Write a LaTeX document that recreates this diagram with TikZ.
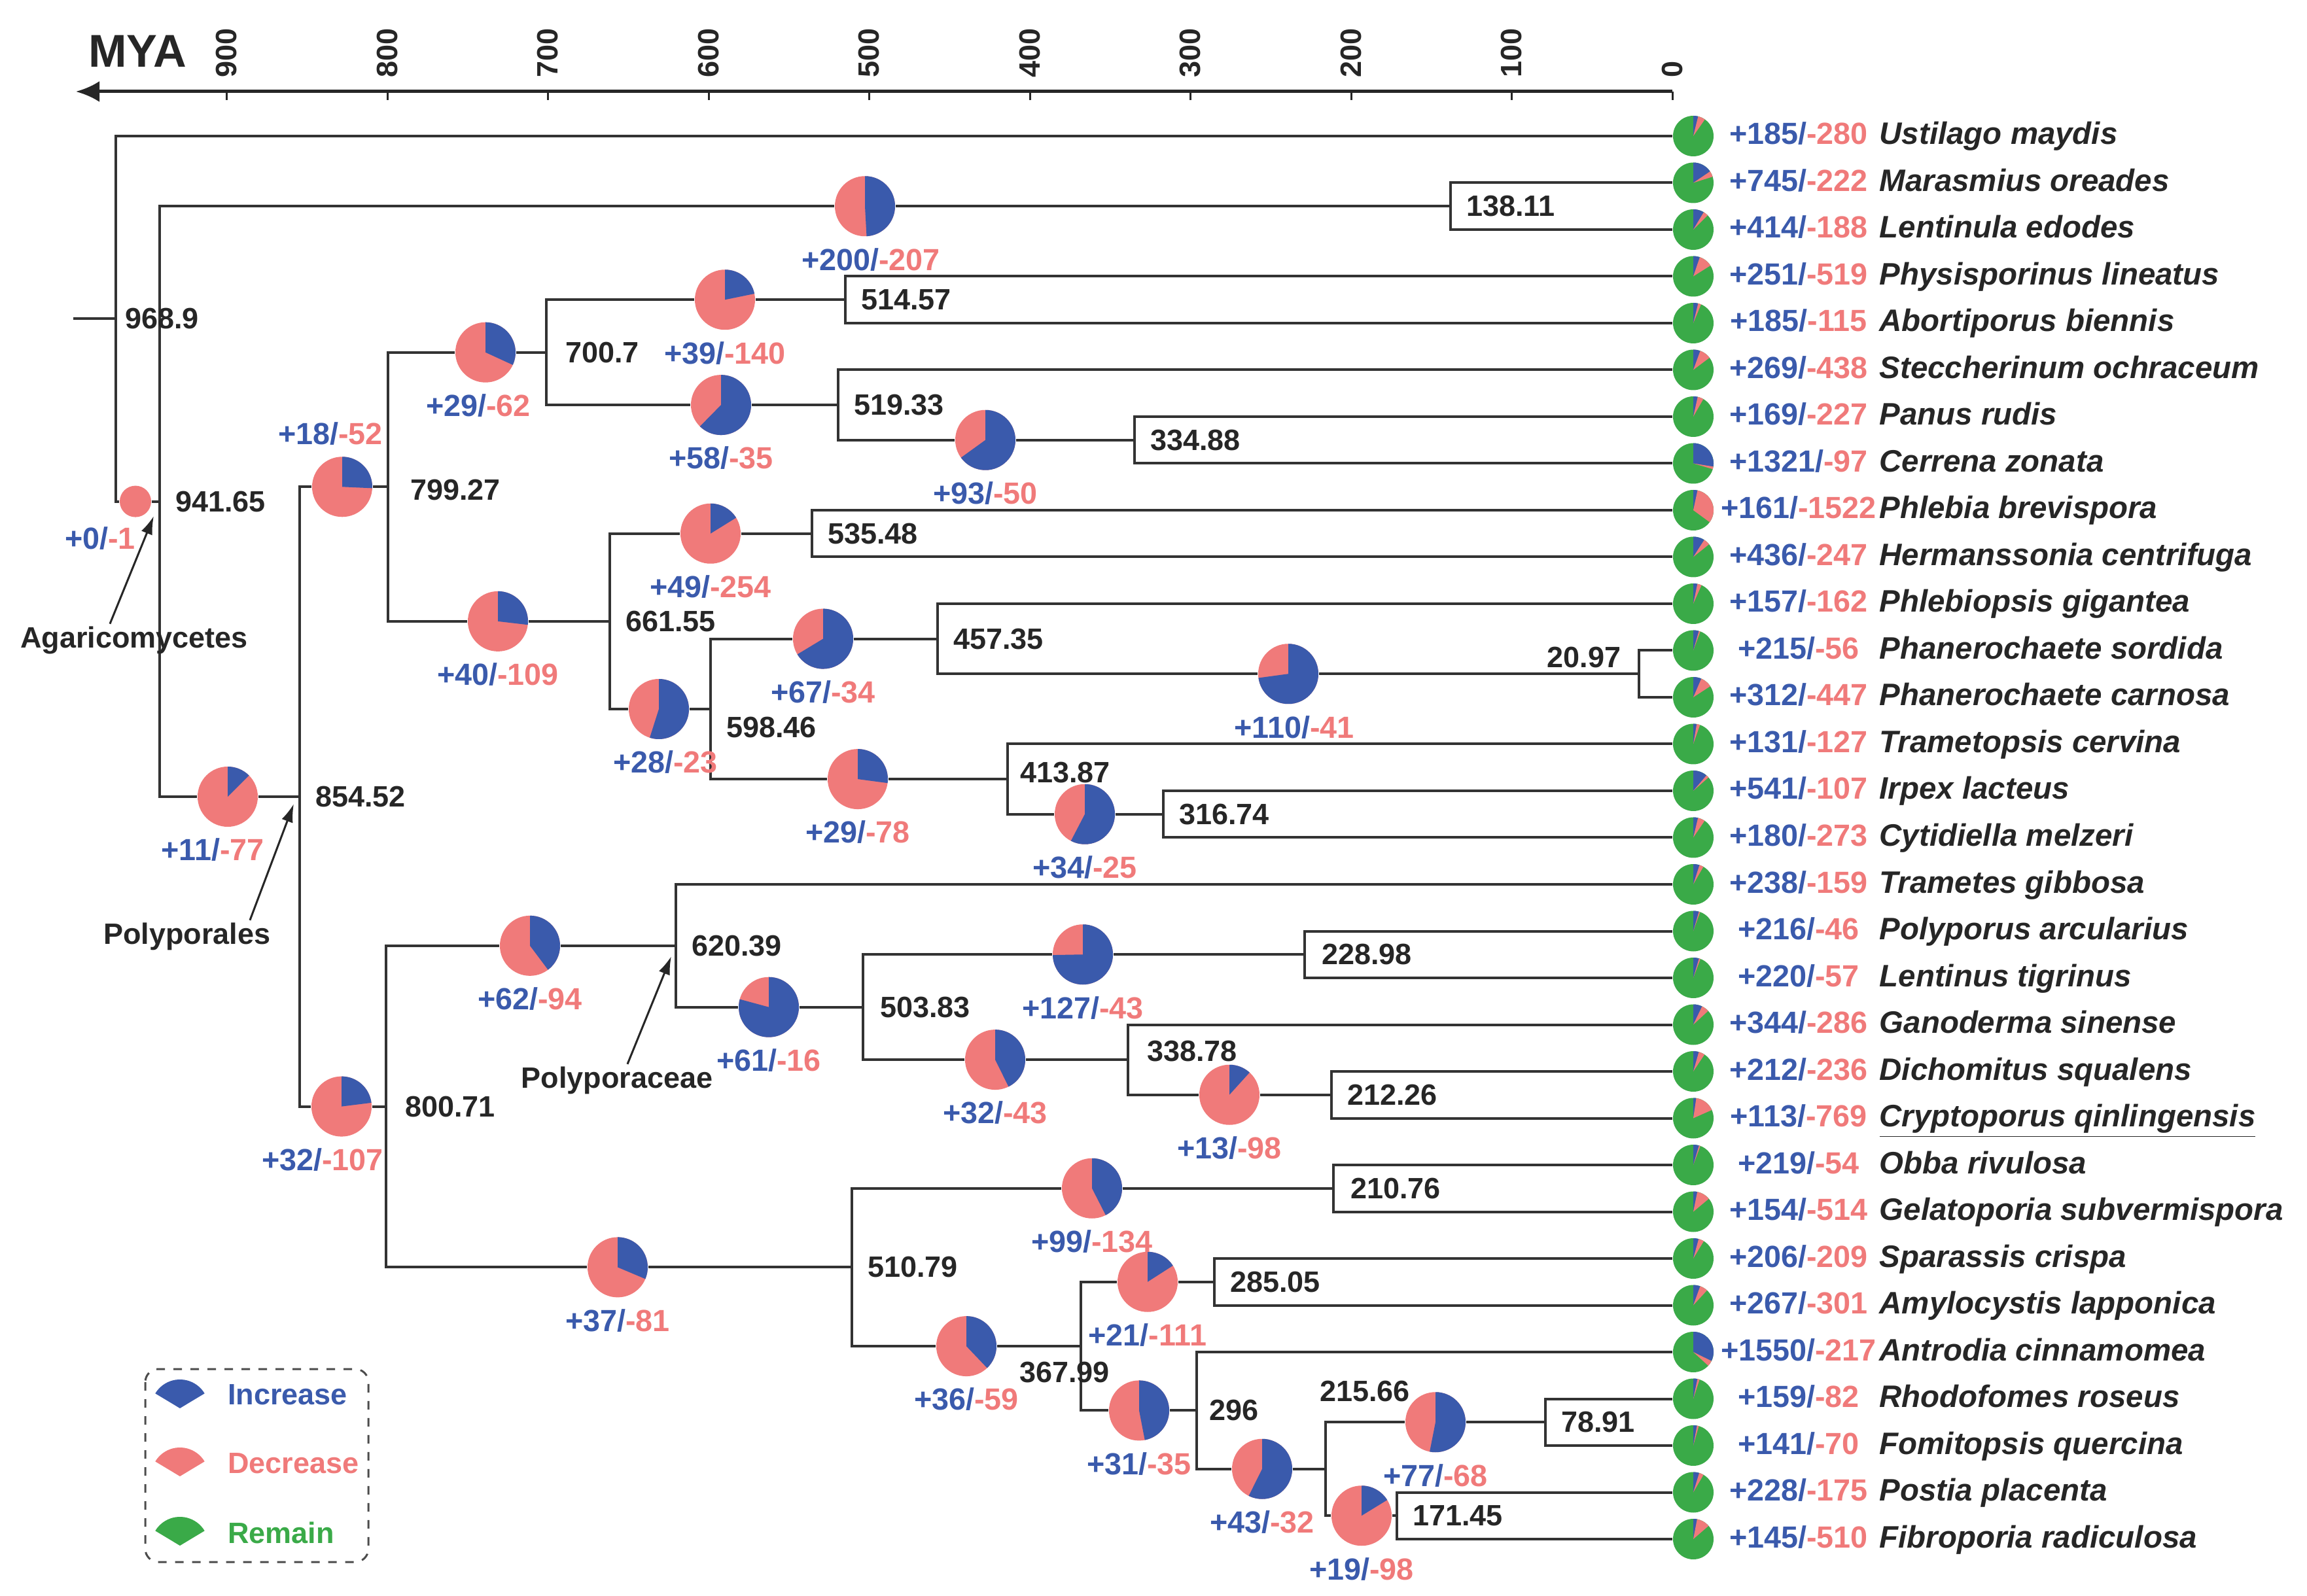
\documentclass[tikz,border=0pt]{standalone}
\usepackage{fontspec}
\setmainfont{Liberation Sans}
\usetikzlibrary{positioning,arrows.meta}

\definecolor{incblue}{RGB}{58,90,172}
\definecolor{decpink}{RGB}{240,122,122}
\definecolor{remgreen}{RGB}{58,170,72}

\newcommand{\gainloss}[2]{\textcolor{incblue}{+#1/}\textcolor{decpink}{-#2}}

% ancestral pie: blue share = gained/(gained+lost)
\newcommand{\nodepie}[4]{%
  \node[pienode] (#1) at (#2) {};
  \fill[incblue] (#1.center) -- ++(90:4.6mm) arc[start angle=90, delta angle={-360*(#3/(#3+#4))}, radius=4.6mm] -- cycle;
}

% extant species: pie, counts and name in one row
\newcommand{\leaf}[5]{%
  \node[leafpie] (#1) at (25.88,#2) {};
  \fill[incblue] (#1.center) -- ++(90:3.1mm) arc[start angle=90, delta angle={-0.075*#3}, radius=3.1mm] -- cycle;
  \fill[decpink] (#1.center) -- ++({90-0.075*#3}:3.1mm) arc[start angle={90-0.075*#3}, delta angle={-0.075*#4}, radius=3.1mm] -- cycle;
  \node[genecount, text height=3.6mm, text depth=1mm] (#1c) at (27.49,#2) {\gainloss{#3}{#4}};
  \node[species] (#1n) at (28.72,#2) {#5};
}

\begin{document}
\begin{tikzpicture}[
    branch/.style={line width=0.4mm, draw=black!80},
    timeaxis/.style={line width=0.5mm, draw=black!85, -{Latex[length=3.6mm,width=3.2mm]}},
    tickmark/.style={line width=0.3mm, draw=black!85},
    ticklabel/.style={font=\fontsize{12.8}{14}\selectfont\bfseries, text=black!85, rotate=90, anchor=west, inner sep=0pt},
    agelabel/.style={font=\fontsize{12.8}{14}\selectfont\bfseries, text=black!85, inner sep=1pt},
    genecount/.style={font=\fontsize{13.3}{15}\selectfont\bfseries, inner sep=1pt},
    species/.style={font=\fontsize{13.5}{15}\selectfont\bfseries\itshape, text=black!85, anchor=west, inner sep=0pt, text height=3.6mm, text depth=1mm},
    pienode/.style={circle, inner sep=0pt, minimum size=9.2mm, fill=decpink},
    leafpie/.style={circle, inner sep=0pt, minimum size=6.2mm, fill=remgreen},
    pointer/.style={line width=0.3mm, draw=black!85, -{Latex[length=2.8mm,width=1.8mm]}},
    legendbox/.style={draw=black!70, line width=0.3mm, dash pattern=on 1.3mm off 1.3mm, rounded corners=2mm}
]

\fill[white] (0,0) rectangle (35.26,-24.40);

% Time axis
\node[font=\fontsize{20}{22}\selectfont\bfseries, text=black!85] (mya) at (2.10,-0.78) {MYA};
\draw[timeaxis] (25.56,-1.40) -- (1.16,-1.40);
\draw[tickmark] (25.56,-1.40) -- ++(0,-0.13);
\draw[tickmark] (23.10,-1.40) -- ++(0,-0.13);
\draw[tickmark] (20.65,-1.40) -- ++(0,-0.13);
\draw[tickmark] (18.19,-1.40) -- ++(0,-0.13);
\draw[tickmark] (15.74,-1.40) -- ++(0,-0.13);
\draw[tickmark] (13.28,-1.40) -- ++(0,-0.13);
\draw[tickmark] (10.83,-1.40) -- ++(0,-0.13);
\draw[tickmark] (8.37,-1.40) -- ++(0,-0.13);
\draw[tickmark] (5.92,-1.40) -- ++(0,-0.13);
\draw[tickmark] (3.46,-1.40) -- ++(0,-0.13);
\node[ticklabel] (t0) at (25.56,-1.19) {0};
\node[ticklabel] (t100) at (23.10,-1.19) {100};
\node[ticklabel] (t200) at (20.65,-1.19) {200};
\node[ticklabel] (t300) at (18.19,-1.19) {300};
\node[ticklabel] (t400) at (15.74,-1.19) {400};
\node[ticklabel] (t500) at (13.28,-1.19) {500};
\node[ticklabel] (t600) at (10.83,-1.19) {600};
\node[ticklabel] (t700) at (8.37,-1.19) {700};
\node[ticklabel] (t800) at (5.92,-1.19) {800};
\node[ticklabel] (t900) at (3.46,-1.19) {900};

% Divergence points
\coordinate (stub) at (1.12,-4.873);
\coordinate (n968) at (1.77,-4.873);
\coordinate (n941) at (2.44,-7.666);
\coordinate (n138) at (22.17,-3.1525);
\coordinate (n854) at (4.58,-12.18);
\coordinate (n799) at (5.93,-7.443);
\coordinate (n700) at (8.35,-5.387);
\coordinate (n514) at (12.92,-4.5825);
\coordinate (n519) at (12.81,-6.191);
\coordinate (n334) at (17.34,-6.7275);
\coordinate (n661) at (9.32,-9.499);
\coordinate (n535) at (12.41,-8.1575);
\coordinate (n598) at (10.86,-10.84);
\coordinate (n457) at (14.33,-9.766);
\coordinate (n020) at (25.045,-10.3025);
\coordinate (n413) at (15.40,-11.911);
\coordinate (n316) at (17.78,-12.4475);
\coordinate (n800) at (5.90,-16.916);
\coordinate (n620) at (10.33,-14.4585);
\coordinate (n503) at (13.19,-15.397);
\coordinate (n228) at (19.94,-14.5925);
\coordinate (n338) at (17.24,-16.201);
\coordinate (n212) at (20.35,-16.7375);
\coordinate (n510) at (13.02,-19.374);
\coordinate (n210) at (20.38,-18.1675);
\coordinate (n367) at (16.52,-20.581);
\coordinate (n285) at (18.56,-19.5975);
\coordinate (n296) at (18.29,-21.564);
\coordinate (n215) at (20.26,-22.4575);
\coordinate (n078) at (23.62,-21.7425);
\coordinate (n171) at (21.35,-23.1725);

% Gain/loss pies on the branches
\node[pienode, minimum size=4.8mm] (pAg) at (2.07,-7.666) {};
\nodepie{p138}{13.22,-3.1525}{200}{207}
\nodepie{p854}{3.48,-12.18}{11}{77}
\nodepie{p799}{5.23,-7.443}{18}{52}
\nodepie{p700}{7.42,-5.387}{29}{62}
\nodepie{p514}{11.08,-4.5825}{39}{140}
\nodepie{p519}{11.02,-6.191}{58}{35}
\nodepie{p334}{15.06,-6.7275}{93}{50}
\nodepie{p661}{7.61,-9.499}{40}{109}
\nodepie{p535}{10.86,-8.1575}{49}{254}
\nodepie{p598}{10.07,-10.84}{28}{23}
\nodepie{p457}{12.58,-9.766}{67}{34}
\nodepie{p020}{19.69,-10.3025}{110}{41}
\nodepie{p413}{13.11,-11.911}{29}{78}
\nodepie{p316}{16.58,-12.4475}{34}{25}
\nodepie{p800}{5.22,-16.916}{32}{107}
\nodepie{p620}{8.10,-14.4585}{62}{94}
\nodepie{p503}{11.75,-15.397}{61}{16}
\nodepie{p228}{16.55,-14.5925}{127}{43}
\nodepie{p338}{15.21,-16.201}{32}{43}
\nodepie{p212}{18.79,-16.7375}{13}{98}
\nodepie{p510}{9.44,-19.374}{37}{81}
\nodepie{p210}{16.69,-18.1675}{99}{134}
\nodepie{p367}{14.77,-20.581}{36}{59}
\nodepie{p285}{17.54,-19.5975}{21}{111}
\nodepie{p296}{17.41,-21.564}{31}{35}
\nodepie{p215}{19.29,-22.4575}{43}{32}
\nodepie{p078}{21.94,-21.7425}{77}{68}
\nodepie{p171}{20.81,-23.1725}{19}{98}

% Species
\leaf{l1}{-2.080}{185}{280}{Ustilago maydis}
\leaf{l2}{-2.795}{745}{222}{Marasmius oreades}
\leaf{l3}{-3.510}{414}{188}{Lentinula edodes}
\leaf{l4}{-4.225}{251}{519}{Physisporinus lineatus}
\leaf{l5}{-4.940}{185}{115}{Abortiporus biennis}
\leaf{l6}{-5.655}{269}{438}{Steccherinum ochraceum}
\leaf{l7}{-6.370}{169}{227}{Panus rudis}
\leaf{l8}{-7.085}{1321}{97}{Cerrena zonata}
\leaf{l9}{-7.800}{161}{1522}{Phlebia brevispora}
\leaf{l10}{-8.515}{436}{247}{Hermanssonia centrifuga}
\leaf{l11}{-9.230}{157}{162}{Phlebiopsis gigantea}
\leaf{l12}{-9.945}{215}{56}{Phanerochaete sordida}
\leaf{l13}{-10.660}{312}{447}{Phanerochaete carnosa}
\leaf{l14}{-11.375}{131}{127}{Trametopsis cervina}
\leaf{l15}{-12.090}{541}{107}{Irpex lacteus}
\leaf{l16}{-12.805}{180}{273}{Cytidiella melzeri}
\leaf{l17}{-13.520}{238}{159}{Trametes gibbosa}
\leaf{l18}{-14.235}{216}{46}{Polyporus arcularius}
\leaf{l19}{-14.950}{220}{57}{Lentinus tigrinus}
\leaf{l20}{-15.665}{344}{286}{Ganoderma sinense}
\leaf{l21}{-16.380}{212}{236}{Dichomitus squalens}
\leaf{l22}{-17.095}{113}{769}{\underline{Cryptoporus qinlingensis}}
\leaf{l23}{-17.810}{219}{54}{Obba rivulosa}
\leaf{l24}{-18.525}{154}{514}{Gelatoporia subvermispora}
\leaf{l25}{-19.240}{206}{209}{Sparassis crispa}
\leaf{l26}{-19.955}{267}{301}{Amylocystis lapponica}
\leaf{l27}{-20.670}{1550}{217}{Antrodia cinnamomea}
\leaf{l28}{-21.385}{159}{82}{Rhodofomes roseus}
\leaf{l29}{-22.100}{141}{70}{Fomitopsis quercina}
\leaf{l30}{-22.815}{228}{175}{Postia placenta}
\leaf{l31}{-23.530}{145}{510}{Fibroporia radiculosa}

% Branches
\draw[branch] (stub) -- (n968);
\draw[branch] (n968) |- (l1);
\draw[branch] (n968) |- (pAg) -- (n941);
\draw[branch] (n941) |- (p138) -- (n138);
\draw[branch] (n138) |- (l2);
\draw[branch] (n138) |- (l3);
\draw[branch] (n941) |- (p854) -- (n854);
\draw[branch] (n854) |- (p799) -- (n799);
\draw[branch] (n799) |- (p700) -- (n700);
\draw[branch] (n700) |- (p514) -- (n514);
\draw[branch] (n514) |- (l4);
\draw[branch] (n514) |- (l5);
\draw[branch] (n700) |- (p519) -- (n519);
\draw[branch] (n519) |- (l6);
\draw[branch] (n519) |- (p334) -- (n334);
\draw[branch] (n334) |- (l7);
\draw[branch] (n334) |- (l8);
\draw[branch] (n799) |- (p661) -- (n661);
\draw[branch] (n661) |- (p535) -- (n535);
\draw[branch] (n535) |- (l9);
\draw[branch] (n535) |- (l10);
\draw[branch] (n661) |- (p598) -- (n598);
\draw[branch] (n598) |- (p457) -- (n457);
\draw[branch] (n457) |- (l11);
\draw[branch] (n457) |- (p020) -- (n020);
\draw[branch] (n020) |- (l12);
\draw[branch] (n020) |- (l13);
\draw[branch] (n598) |- (p413) -- (n413);
\draw[branch] (n413) |- (l14);
\draw[branch] (n413) |- (p316) -- (n316);
\draw[branch] (n316) |- (l15);
\draw[branch] (n316) |- (l16);
\draw[branch] (n854) |- (p800) -- (n800);
\draw[branch] (n800) |- (p620) -- (n620);
\draw[branch] (n620) |- (l17);
\draw[branch] (n620) |- (p503) -- (n503);
\draw[branch] (n503) |- (p228) -- (n228);
\draw[branch] (n228) |- (l18);
\draw[branch] (n228) |- (l19);
\draw[branch] (n503) |- (p338) -- (n338);
\draw[branch] (n338) |- (l20);
\draw[branch] (n338) |- (p212) -- (n212);
\draw[branch] (n212) |- (l21);
\draw[branch] (n212) |- (l22);
\draw[branch] (n800) |- (p510) -- (n510);
\draw[branch] (n510) |- (p210) -- (n210);
\draw[branch] (n210) |- (l23);
\draw[branch] (n210) |- (l24);
\draw[branch] (n510) |- (p367) -- (n367);
\draw[branch] (n367) |- (p285) -- (n285);
\draw[branch] (n285) |- (l25);
\draw[branch] (n285) |- (l26);
\draw[branch] (n367) |- (p296) -- (n296);
\draw[branch] (n296) |- (l27);
\draw[branch] (n296) |- (p215) -- (n215);
\draw[branch] (n215) |- (p078) -- (n078);
\draw[branch] (n078) |- (l28);
\draw[branch] (n078) |- (l29);
\draw[branch] (n215) |- (p171) -- (n171);
\draw[branch] (n171) |- (l30);
\draw[branch] (n171) |- (l31);

% Divergence times
\node[agelabel, right=1mm of n968] (a968) {968.9};
\node[agelabel, right=2mm of n941] (a941) {941.65};
\node[agelabel, right=2mm of n138] (a138) {138.11};
\node[agelabel, right=2mm of n854] (a854) {854.52};
\node[agelabel, right=3mm of n799, yshift=-0.5mm] (a799) {799.27};
\node[agelabel, right=2.5mm of n700] (a700) {700.7};
\node[agelabel, right=2mm of n514] (a514) {514.57};
\node[agelabel, right=2mm of n519] (a519) {519.33};
\node[agelabel, right=2mm of n334] (a334) {334.88};
\node[agelabel, right=2mm of n661] (a661) {661.55};
\node[agelabel, right=2mm of n535] (a535) {535.48};
\node[agelabel, right=2mm of n598, yshift=-2.8mm] (a598) {598.46};
\node[agelabel, right=2mm of n457] (a457) {457.35};
\node[agelabel, left=2.3mm of n020, yshift=2.5mm] (a020) {20.97};
\node[agelabel, right=1.5mm of n413, yshift=1mm] (a413) {413.87};
\node[agelabel, right=2mm of n316] (a316) {316.74};
\node[agelabel, right=2.5mm of n800] (a800) {800.71};
\node[agelabel, right=2mm of n620] (a620) {620.39};
\node[agelabel, right=2.2mm of n503] (a503) {503.83};
\node[agelabel, right=2.2mm of n228] (a228) {228.98};
\node[agelabel, right=2.5mm of n338, yshift=1.3mm] (a338) {338.78};
\node[agelabel, right=2mm of n212] (a212) {212.26};
\node[agelabel, right=2mm of n510] (a510) {510.79};
\node[agelabel, right=2.2mm of n210] (a210) {210.76};
\node[agelabel, below=2mm of n367, xshift=-2.5mm] (a367) {367.99};
\node[agelabel, right=2mm of n285] (a285) {285.05};
\node[agelabel, right=1.5mm of n296] (a296) {296};
\node[agelabel] (a215) at (20.86,-21.27) {215.66};
\node[agelabel, right=2mm of n078] (a078) {78.91};
\node[agelabel, right=2mm of n171] (a171) {171.45};

% Gene family gains/losses
\node[genecount, below=1mm of pAg, xshift=-5.4mm] (cAg) {\gainloss{0}{1}};
\node[genecount, below=1.3mm of p138, xshift=0.9mm] (c138) {\gainloss{200}{207}};
\node[genecount, below=1.3mm of p854, xshift=-2.3mm] (c854) {\gainloss{11}{77}};
\node[genecount, above=1.3mm of p799, xshift=-1.8mm] (c799) {\gainloss{18}{52}};
\node[genecount, below=1.3mm of p700, xshift=-1.1mm] (c700) {\gainloss{29}{62}};
\node[genecount, below=1.3mm of p514] (c514) {\gainloss{39}{140}};
\node[genecount, below=1.3mm of p519] (c519) {\gainloss{58}{35}};
\node[genecount, below=1.3mm of p334] (c334) {\gainloss{93}{50}};
\node[genecount, below=1.3mm of p661] (c661) {\gainloss{40}{109}};
\node[genecount, below=1.3mm of p535] (c535) {\gainloss{49}{254}};
\node[genecount, below=1.3mm of p598, xshift=1mm] (c598) {\gainloss{28}{23}};
\node[genecount, below=1.3mm of p457] (c457) {\gainloss{67}{34}};
\node[genecount, below=1.3mm of p020, xshift=0.9mm] (c020) {\gainloss{110}{41}};
\node[genecount, below=1.3mm of p413] (c413) {\gainloss{29}{78}};
\node[genecount, below=1.3mm of p316] (c316) {\gainloss{34}{25}};
\node[genecount, below=1.3mm of p800, xshift=-2.9mm] (c800) {\gainloss{32}{107}};
\node[genecount, below=1.3mm of p620] (c620) {\gainloss{62}{94}};
\node[genecount, below=1.3mm of p503] (c503) {\gainloss{61}{16}};
\node[genecount, below=1.3mm of p228] (c228) {\gainloss{127}{43}};
\node[genecount, below=1.3mm of p338] (c338) {\gainloss{32}{43}};
\node[genecount, below=1.3mm of p212] (c212) {\gainloss{13}{98}};
\node[genecount, below=1.3mm of p510] (c510) {\gainloss{37}{81}};
\node[genecount, below=1.3mm of p210] (c210) {\gainloss{99}{134}};
\node[genecount, below=1.3mm of p367] (c367) {\gainloss{36}{59}};
\node[genecount, below=1.3mm of p285] (c285) {\gainloss{21}{111}};
\node[genecount, below=1.3mm of p296] (c296) {\gainloss{31}{35}};
\node[genecount, below=1.3mm of p215] (c215) {\gainloss{43}{32}};
\node[genecount, below=1.3mm of p078] (c078) {\gainloss{77}{68}};
\node[genecount, below=1.3mm of p171] (c171) {\gainloss{19}{98}};

% Clade names
\node[agelabel] (agaric) at (2.05,-9.79) {Agaricomycetes};
\node[agelabel] (polyporales) at (2.86,-14.32) {Polyporales};
\node[agelabel] (polyporaceae) at (9.43,-16.52) {Polyporaceae};
\coordinate (tipagaric) at (2.35,-7.89);
\coordinate (tippolyporales) at (4.49,-12.29);
\coordinate (tippolyporaceae) at (10.26,-14.62);
\draw[pointer] ([xshift=-3.7mm]agaric.north) -- (tipagaric);
\draw[pointer] ([xshift=9.6mm]polyporales.north) -- (tippolyporales);
\draw[pointer] ([xshift=1.6mm]polyporaceae.north) -- (tippolyporaceae);

% Legend
\draw[legendbox] (2.22,-20.93) rectangle (5.63,-23.88);
\fill[incblue] (2.75,-21.53) -- ++(31:0.44) arc[start angle=31, end angle=149, radius=0.44] -- cycle;
\fill[decpink] (2.75,-22.57) -- ++(31:0.44) arc[start angle=31, end angle=149, radius=0.44] -- cycle;
\fill[remgreen] (2.75,-23.63) -- ++(31:0.44) arc[start angle=31, end angle=149, radius=0.44] -- cycle;
\node[agelabel, text=incblue, anchor=west] (kinc) at (3.44,-21.32) {Increase};
\node[agelabel, text=decpink, anchor=west] (kdec) at (3.44,-22.37) {Decrease};
\node[agelabel, text=remgreen, anchor=west] (krem) at (3.44,-23.43) {Remain};

\end{tikzpicture}
\end{document}
